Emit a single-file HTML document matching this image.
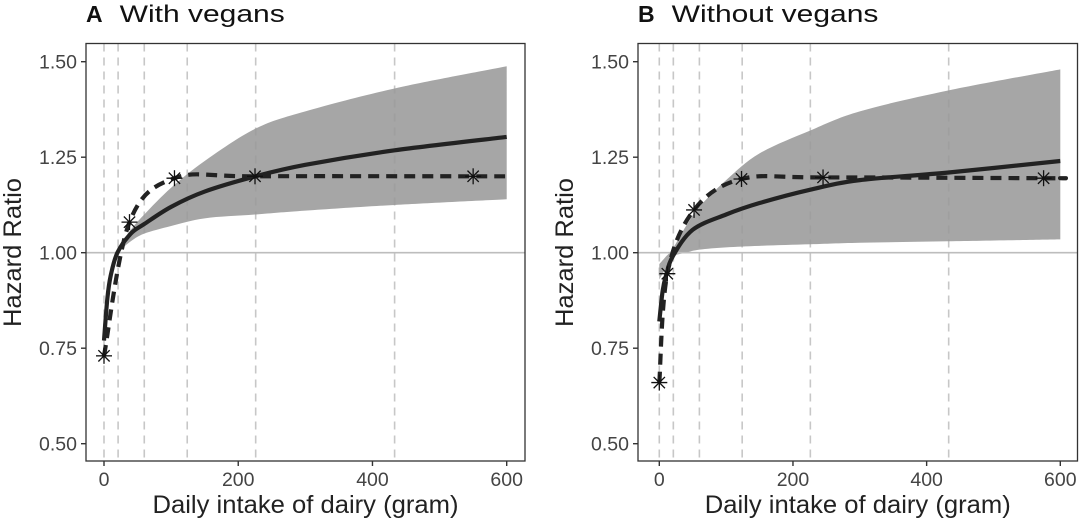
<!DOCTYPE html>
<html><head><meta charset="utf-8">
<style>
html,body{margin:0;padding:0;background:#fff;width:1080px;height:526px;overflow:hidden}
svg{display:block;font-family:"Liberation Sans",Arial,sans-serif}
</style></head>
<body>
<svg id="chart" width="1080" height="526" viewBox="0 0 1080 526"></svg>
<script>
// Shared
const yTicks = [0.50, 0.75, 1.00, 1.25, 1.50];
const yTickLabels = ["0.50", "0.75", "1.00", "1.25", "1.50"];
const xTicks = [0, 200, 400, 600];
const xTickLabels = ["0", "200", "400", "600"];
const quantileLines = [0, 21, 60, 124, 226, 433];

// Panel A
const bandXA = [20, 40, 60, 100, 150, 226, 300, 433, 600];
const upperA = [1.01, 1.06, 1.10, 1.17, 1.24, 1.325, 1.37, 1.43, 1.488];
const lowerA = [1.00, 1.03, 1.05, 1.07, 1.09, 1.10, 1.11, 1.125, 1.14];
const solidXA = [0, 5, 10, 20, 40, 60, 100, 150, 226, 300, 433, 600];
const solidYA = [0.77, 0.88, 0.94, 1.00, 1.05, 1.075, 1.12, 1.16, 1.20, 1.23, 1.268, 1.303];
const pointXA = [0, 38, 105, 225, 550];
const pointYA = [0.73, 1.08, 1.195, 1.20, 1.20];

// Panel B
const bandXB = [0, 10, 20, 40, 60, 100, 150, 226, 300, 433, 600];
const upperB = [0.97, 0.99, 1.01, 1.07, 1.12, 1.19, 1.26, 1.32, 1.37, 1.425, 1.48];
const lowerB = [0.93, 0.96, 0.99, 1.00, 1.008, 1.014, 1.018, 1.022, 1.026, 1.03, 1.035];
const solidXB = [0, 5, 10, 20, 50, 100, 150, 226, 300, 433, 600];
const solidYB = [0.82, 0.90, 0.94, 0.99, 1.06, 1.10, 1.13, 1.165, 1.19, 1.21, 1.24];
const pointXB = [0, 12, 52, 123, 245, 575];
const pointYB = [0.66, 0.945, 1.112, 1.193, 1.197, 1.195];

const NS = "http://www.w3.org/2000/svg";
const svg = document.getElementById("chart");
function mk(tag, attrs, parent) {
  const e = document.createElementNS(NS, tag);
  for (const k in attrs) e.setAttribute(k, attrs[k]);
  (parent || svg).appendChild(e);
  return e;
}
function smooth(pts) {
  let d = "M" + pts[0][0] + "," + pts[0][1];
  for (let i = 0; i < pts.length - 1; i++) {
    const p0 = pts[Math.max(i - 1, 0)], p1 = pts[i], p2 = pts[i + 1], p3 = pts[Math.min(i + 2, pts.length - 1)];
    const c1x = p1[0] + (p2[0] - p0[0]) / 6, c1y = p1[1] + (p2[1] - p0[1]) / 6;
    const c2x = p2[0] - (p3[0] - p1[0]) / 6, c2y = p2[1] - (p3[1] - p1[1]) / 6;
    d += " C" + c1x + "," + c1y + " " + c2x + "," + c2y + " " + p2[0] + "," + p2[1];
  }
  return d;
}

function panel(cfg) {
  const g = mk("g", {});
  
  
  const X = v => cfg.x0 + (v / 600) * (cfg.x600 - cfg.x0);
  const Y = v => 252.7 - (v - 1) * 382;
  const top = 43.5, bottom = 461;

  // title
  const t = mk("text", {x: cfg.left, y: 22, "font-size": 24, fill: "#111"}, g);
  
  
  const tl = mk("tspan", {"font-weight": "bold", "font-size": 23}, t); tl.textContent = cfg.letter;
  const tr = mk("tspan", {dx: 17}, t); tr.textContent = cfg.title;
  const w = tr.getComputedTextLength();
  tr.setAttribute("textLength", w * 1.25);
  tr.setAttribute("lengthAdjust", "spacingAndGlyphs");

  // band
  const up = cfg.bandX.map((x, i) => [X(x), Y(cfg.upper[i])]);
  const lo = cfg.bandX.map((x, i) => [X(x), Y(cfg.lower[i])]).reverse();
  const ls = smooth(lo);
  const d = smooth(up) + " L" + lo[0][0] + "," + lo[0][1] + ls.slice(ls.indexOf(" C")) + " Z";
  const band = mk("path", {d: d, fill: "#a6a6a6", stroke: "none"}, g);
  
  

  // ref line at 1.00
  const ref = mk("line", {x1: cfg.left, x2: cfg.right, y1: Y(1), y2: Y(1), stroke: "#bdbdbd", "stroke-width": 1.6}, g);
  
  

  // quantile lines
  quantileLines.forEach(q => {
    const l = mk("line", {x1: X(q), x2: X(q), y1: top, y2: bottom, stroke: "#999", "stroke-opacity": 0.55, "stroke-width": 1.6, "stroke-dasharray": "8,6"}, g);
    
    
  });

  // solid spline
  const sp = mk("path", {d: smooth(cfg.solidX.map((x, i) => [X(x), Y(cfg.solidY[i])])), fill: "none", stroke: "#222", "stroke-width": 4.2}, g);
  
  

  // dashed category line
  const pts = cfg.pointX.map((x, i) => [X(x), Y(cfg.pointY[i])]);
  pts.push([X(600), Y(cfg.pointY[cfg.pointY.length - 1])]);
  const dl = mk("path", {d: smooth(pts), fill: "none", stroke: "#222", "stroke-width": 4.2, "stroke-dasharray": "11,7"}, g);
  
  

  // asterisks
  cfg.pointX.forEach((x, i) => {
    const cx = X(x), cy = Y(cfg.pointY[i]);
    const a = mk("g", {stroke: "#111", "stroke-width": 1.3}, g);
    
    
    for (let k = 0; k < 4; k++) {
      const ang = k * Math.PI / 4, r = 8;
      mk("line", {x1: cx - r * Math.cos(ang), y1: cy - r * Math.sin(ang), x2: cx + r * Math.cos(ang), y2: cy + r * Math.sin(ang)}, a);
    }
  });

  // frame
  const fr = mk("rect", {x: cfg.left, y: top, width: cfg.right - cfg.left, height: bottom - top, fill: "none", stroke: "#333", "stroke-width": 1.3}, g);
  
  

  // y ticks
  yTicks.forEach((v, i) => {
    mk("line", {x1: cfg.left - 5, x2: cfg.left, y1: Y(v), y2: Y(v), stroke: "#333", "stroke-width": 1.4}, g);
    const tx = mk("text", {x: cfg.left - 9, y: Y(v) + 7, "text-anchor": "end", "font-size": 19.5, fill: "#444"}, g);
    
    
    tx.textContent = yTickLabels[i];
  });
  // x ticks
  xTicks.forEach((v, i) => {
    mk("line", {x1: X(v), x2: X(v), y1: bottom, y2: bottom + 5, stroke: "#333", "stroke-width": 1.4}, g);
    const tx = mk("text", {x: X(v), y: bottom + 25, "text-anchor": "middle", "font-size": 19.5, fill: "#444"}, g);
    
    
    tx.textContent = xTickLabels[i];
  });
  // axis titles
  const xt = mk("text", {x: (cfg.left + cfg.right) / 2, y: 513, "text-anchor": "middle", "font-size": 25, fill: "#222", textLength: 306, lengthAdjust: "spacingAndGlyphs"}, g);
  
  
  xt.textContent = "Daily intake of dairy (gram)";
  const yt = mk("text", {x: 0, y: 0, "text-anchor": "middle", "font-size": 25, fill: "#222", textLength: 149, lengthAdjust: "spacingAndGlyphs", transform: "translate(" + cfg.yTitleX + "," + 252.5 + ") rotate(-90)"}, g);
  
  
  yt.textContent = "Hazard Ratio";
}

panel({name: "panel-a-with-vegans", letter: "A", title: "With vegans", left: 86, right: 525, x0: 104, x600: 506.7,
  bandX: bandXA, upper: upperA, lower: lowerA, solidX: solidXA, solidY: solidYA, pointX: pointXA, pointY: pointYA, yTitleX: 21});
panel({name: "panel-b-without-vegans", letter: "B", title: "Without vegans", left: 638, right: 1077.5, x0: 659.3, x600: 1060.3,
  bandX: bandXB, upper: upperB, lower: lowerB, solidX: solidXB, solidY: solidYB, pointX: pointXB, pointY: pointYB, yTitleX: 573});
</script>
</body></html>
